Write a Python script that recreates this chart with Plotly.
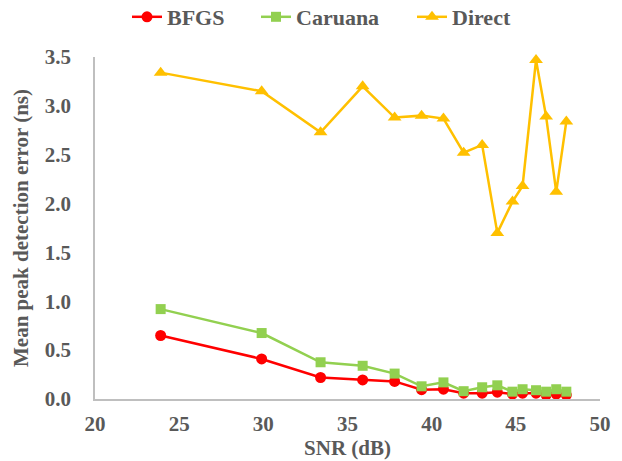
import plotly.graph_objects as go

snr = [23.9, 29.9, 33.4, 35.9, 37.8, 39.4, 40.7, 41.9, 43.0, 43.9, 44.8, 45.4, 46.2, 46.8, 47.4, 48.0]
bfgs = [0.65, 0.41, 0.22, 0.195, 0.18, 0.095, 0.10, 0.06, 0.06, 0.07, 0.05, 0.06, 0.06, 0.04, 0.05, 0.04]
caruana = [0.92, 0.675, 0.376, 0.34, 0.26, 0.13, 0.17, 0.08, 0.12, 0.14, 0.075, 0.10, 0.09, 0.075, 0.10, 0.075]
direct = [3.34, 3.15, 2.73, 3.20, 2.88, 2.90, 2.87, 2.52, 2.60, 1.70, 2.02, 2.18, 3.47, 2.89, 2.12, 2.84]

y_ticks = [0.0, 0.5, 1.0, 1.5, 2.0, 2.5, 3.0, 3.5]
x_ticks = [20, 25, 30, 35, 40, 45, 50]

font_family = "Liberation Serif"
text_color = "#595959"
fs = 21

W, H = 622, 461

fig = go.Figure()
fig.add_trace(go.Scatter(x=snr, y=bfgs, name="BFGS", mode="lines+markers",
                         line=dict(color="#FF0000", width=2.5),
                         marker=dict(symbol="circle", size=11, color="#FF0000"),
                         cliponaxis=False, legend="legend", showlegend=True))
fig.add_trace(go.Scatter(x=snr, y=caruana, name="Caruana", mode="lines+markers",
                         line=dict(color="#92D050", width=2.5),
                         marker=dict(symbol="square", size=10, color="#92D050"),
                         cliponaxis=False, legend="legend2", showlegend=True))
fig.add_trace(go.Scatter(x=snr, y=direct, name="Direct", mode="lines+markers",
                         line=dict(color="#FFC000", width=2.5),
                         marker=dict(symbol="triangle-up", size=12, color="#FFC000"),
                         cliponaxis=False, legend="legend3", showlegend=True))

legend_font = dict(family=font_family, size=22, color=text_color, weight="bold")
def leg(xpx):
    return dict(orientation="h", xref="container", yref="container",
                x=xpx / W, xanchor="left", y=1 - 17 / H, yanchor="middle",
                font=legend_font, bgcolor="rgba(0,0,0,0)")

fig.update_layout(
    width=W, height=H, showlegend=True,
    margin=dict(l=95, r=22, t=57, b=62, autoexpand=False),
    paper_bgcolor="white", plot_bgcolor="white",
    font=dict(family=font_family, size=fs, color=text_color),
    legend=leg(127), legend2=leg(256), legend3=leg(412),
    xaxis=dict(range=[20, 50], tickvals=x_ticks, showgrid=False, zeroline=False,
               showline=True, linecolor="#BFBFBF", linewidth=1.5,
               ticks="", ticklabelstandoff=5, automargin=False,
               tickfont=dict(family=font_family, size=fs, color=text_color, weight="bold"),
               title=dict(text="<b>SNR (dB)</b>", standoff=2,
                          font=dict(family=font_family, size=fs, color=text_color))),
    yaxis=dict(range=[0, 3.5], tickvals=y_ticks, tickformat=".1f", showgrid=False,
               zeroline=False, showline=True, linecolor="#BFBFBF", linewidth=1.5,
               ticks="", ticklabelstandoff=18, automargin=False,
               tickfont=dict(family=font_family, size=fs, color=text_color, weight="bold"),
               title=dict(text="<b>Mean peak detection error (ns)</b>", standoff=10,
                          font=dict(family=font_family, size=fs, color=text_color))),
)

# remove the browser's default 8px body margin so the figure fills the window
fig.write_html("out.html", config={"displayModeBar": False},
               post_script="document.body.style.margin='0';")
